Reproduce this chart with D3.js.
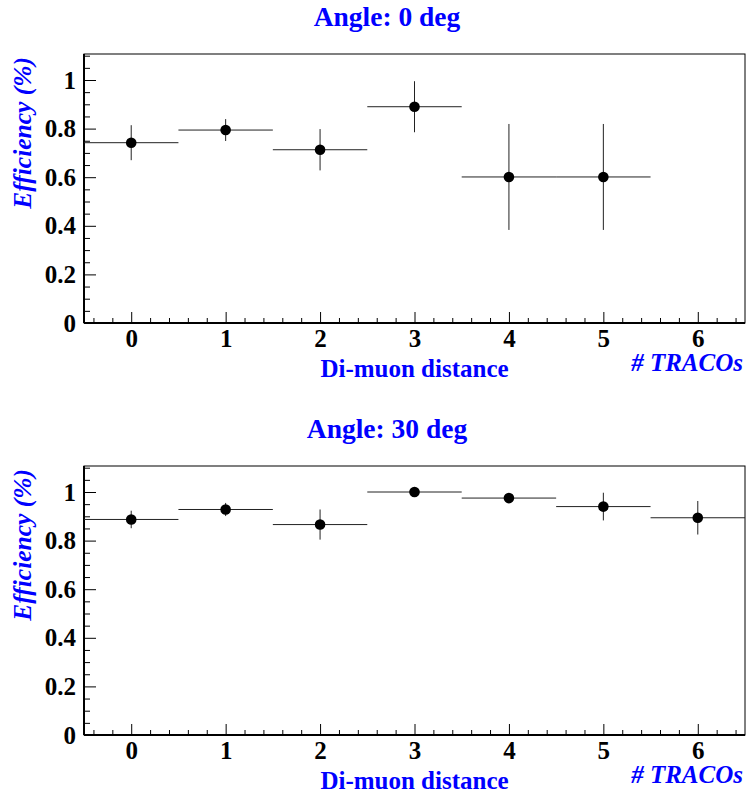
<!DOCTYPE html>
<meta charset="utf-8">
<style>
body { margin: 0; background: white; }
text { font-family: "Liberation Serif", "Times New Roman", serif; font-weight: bold; }
.tick text { font-size: 25px; fill: black; }
.axis .domain { display: none; }
.axis line { stroke: black; }
.err { stroke: #222; stroke-width: 1; }
.blue { fill: #0000ff; }
</style>
<body>
<script src="https://cdn.jsdelivr.net/npm/d3@7"></script>
<script>

// data: efficiency per number of TRACOs between the two muons
var bins = [0, 1, 2, 3, 4, 5, 6];
var xTicks = [0, 1, 2, 3, 4, 5, 6];
var yTicks = [0, 0.2, 0.4, 0.6, 0.8, 1];

// angle 0 deg (no entry in the last bin)
var eff0 = [0.742, 0.794, 0.713, 0.890, 0.601, 0.601, null];
var err0 = [0.072, 0.045, 0.085, 0.105, 0.218, 0.218, null];

// angle 30 deg
var eff30 = [0.887, 0.928, 0.866, 1.000, 0.975, 0.940, 0.894];
var err30 = [0.036, 0.027, 0.062, 0.000, 0.010, 0.057, 0.069];

var W = 747, H = 796;
var margin = {left: 84, right: 2},
    width = W - margin.left - margin.right,
    height = 269;

var x = d3.scaleLinear().domain([-0.5, 6.5]).range([0, width]);
var y = d3.scaleLinear().domain([0, 1.107]).range([height, 0]);

var svg = d3.select("body").append("svg")
    .attr("width", W)
    .attr("height", H);

function drawPanel(top, title, eff, err) {
  var g = svg.append("g")
      .attr("transform", "translate(" + margin.left + "," + top + ")");

  // title
  svg.append("text")
      .attr("class", "blue")
      .attr("x", 387)
      .attr("y", top - 28)
      .attr("text-anchor", "middle")
      .style("font-size", "27.5px")
      .text(title);

  // minor ticks
  var xMinor = d3.range(-2, 33).map(function(i) { return i * 0.2; })
      .filter(function(v) { return Math.abs(v - Math.round(v)) > 1e-6; });
  var yMinor = d3.range(0, 23).map(function(i) { return i * 0.05; })
      .filter(function(v) { return Math.abs(v * 5 - Math.round(v * 5)) > 1e-6; });

  g.append("g")
      .attr("class", "axis")
      .attr("transform", "translate(0," + height + ")")
      .call(d3.axisBottom(x).tickValues(xMinor).tickSize(-5).tickFormat(""));
  g.append("g")
      .attr("class", "axis")
      .call(d3.axisLeft(y).tickValues(yMinor).tickSize(-6).tickFormat(""));

  // major ticks + labels
  g.append("g")
      .attr("class", "axis")
      .attr("transform", "translate(0," + height + ")")
      .call(d3.axisBottom(x).tickValues(xTicks).tickSize(-11).tickPadding(6)
            .tickFormat(d3.format("d")));
  g.append("g")
      .attr("class", "axis")
      .call(d3.axisLeft(y).tickValues(yTicks).tickSize(-12).tickPadding(8)
            .tickFormat(function(d) { return d === 0 || d === 1 ? d : d.toFixed(1); }));

  // frame
  g.append("rect")
      .attr("width", width)
      .attr("height", height)
      .attr("fill", "none")
      .attr("stroke", "black")
      .attr("stroke-width", 1);
  g.append("line")
      .attr("x1", 0).attr("x2", width)
      .attr("y1", height).attr("y2", height)
      .attr("stroke", "black").attr("stroke-width", 2);
  g.append("line")
      .attr("x1", 0).attr("x2", 0)
      .attr("y1", 0).attr("y2", height)
      .attr("stroke", "black").attr("stroke-width", 2);

  var pts = bins.map(function(b, i) { return {b: b, v: eff[i], e: err[i]}; })
      .filter(function(d) { return d.v != null; });

  // horizontal (bin width) bars
  g.selectAll(".hbar").data(pts).enter().append("line")
      .attr("class", "err")
      .attr("x1", function(d) { return x(d.b - 0.5); })
      .attr("x2", function(d) { return x(d.b + 0.5); })
      .attr("y1", function(d) { return y(d.v); })
      .attr("y2", function(d) { return y(d.v); });

  // vertical error bars
  g.selectAll(".vbar").data(pts.filter(function(d) { return d.e > 0; })).enter().append("line")
      .attr("class", "err")
      .attr("x1", function(d) { return x(d.b); })
      .attr("x2", function(d) { return x(d.b); })
      .attr("y1", function(d) { return y(d.v - d.e); })
      .attr("y2", function(d) { return y(d.v + d.e); });

  g.selectAll(".dot").data(pts).enter().append("circle")
      .attr("cx", function(d) { return x(d.b); })
      .attr("cy", function(d) { return y(d.v); })
      .attr("r", 5.3)
      .attr("fill", "black");

  // axis titles
  g.append("text")
      .attr("class", "blue")
      .attr("x", width / 2)
      .attr("y", height + 54)
      .attr("text-anchor", "middle")
      .style("font-size", "25px")
      .text("Di-muon distance");

  g.append("text")
      .attr("class", "blue")
      .attr("x", width - 2)
      .attr("y", height + 48)
      .attr("text-anchor", "end")
      .style("font-size", "25px")
      .style("font-style", "italic")
      .text("# TRACOs");

  g.append("text")
      .attr("class", "blue")
      .attr("transform", "translate(" + (31 - margin.left) + ",3) rotate(-90)")
      .attr("text-anchor", "end")
      .style("font-size", "25.5px")
      .style("font-style", "italic")
      .text("Efficiency (%)");
}

drawPanel(54, "Angle: 0 deg", eff0, err0);
drawPanel(466, "Angle: 30 deg", eff30, err30);

</script>
</body>
